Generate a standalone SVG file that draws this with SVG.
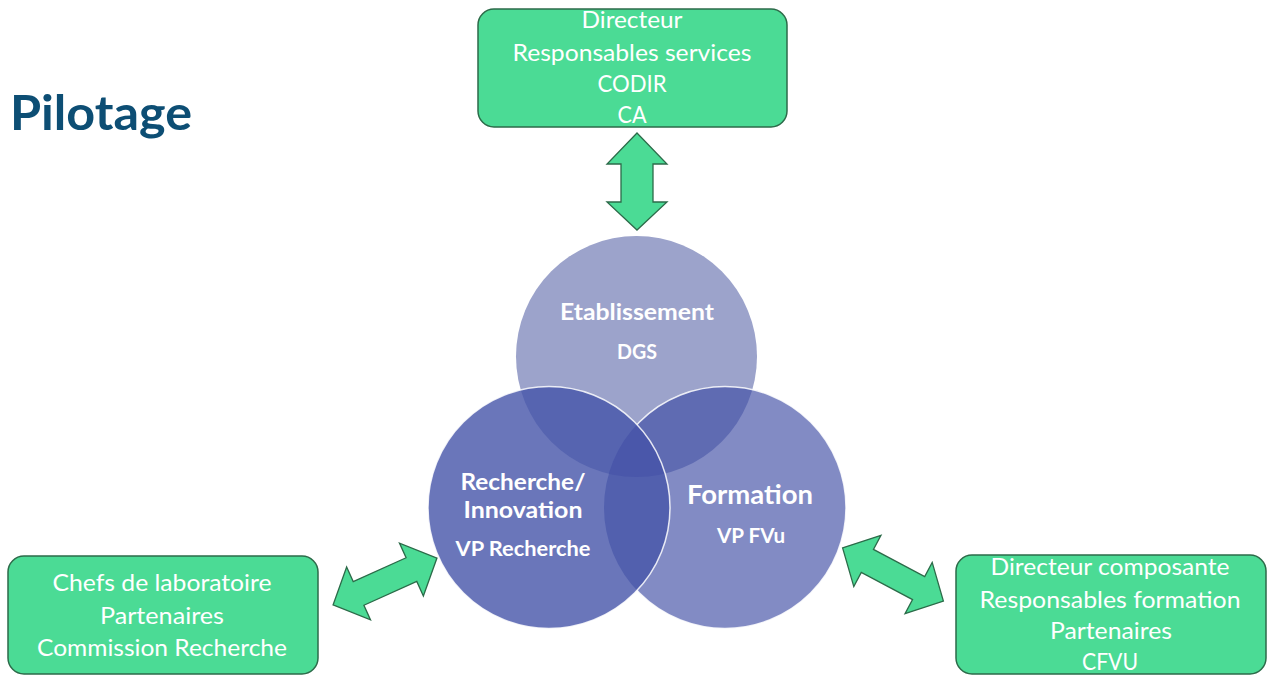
<svg xmlns="http://www.w3.org/2000/svg" width="1267" height="675" viewBox="0 0 1267 675">
<defs>
<style>
.box{fill:#4BDB95;stroke:#2C6B49;stroke-width:1.5}
.arr{fill:#4BDB95;stroke:#2C6B49;stroke-width:1.3;stroke-linejoin:miter}
.bt{font-family:Lato,"Liberation Sans",sans-serif;font-size:23px;fill:#ffffff;text-anchor:middle}
.ct{font-family:Lato,"Liberation Sans",sans-serif;font-weight:bold;fill:#ffffff;text-anchor:middle}
</style>
<clipPath id="cTop"><circle cx="636.5" cy="356.5" r="120.5"/></clipPath>
<clipPath id="cRight"><circle cx="725" cy="507.5" r="121"/></clipPath>
<clipPath id="cLeft"><circle cx="549" cy="507.5" r="121"/></clipPath>
</defs>
<rect width="1267" height="675" fill="#ffffff"/>
<text x="10" y="130" font-family="Lato,'Liberation Sans',sans-serif" font-weight="bold" font-size="47" fill="#0D4E74" textLength="182" lengthAdjust="spacingAndGlyphs">Pilotage</text>

<g id="connectors">
<polygon class="arr" points="637,133 667,164 653,164 653,202 667,202 637,230 607,202 621,202 621,164 607,164"/>
<polygon class="arr" transform="translate(385,581.5) rotate(-24.3)" points="-57,0 -29,-29 -29,-13 29,-13 29,-29 57,0 29,29 29,13 -29,13 -29,29"/>
<polygon class="arr" transform="translate(893,574.5) rotate(27.9)" points="-57,0 -29,-29 -29,-13 29,-13 29,-29 57,0 29,29 29,13 -29,13 -29,29"/>
</g>

<g id="node-top">
<rect class="box" x="478" y="9" width="309" height="118" rx="16"/>
<text class="bt" x="632" y="28" textLength="101" lengthAdjust="spacingAndGlyphs">Directeur</text>
<text class="bt" x="632" y="61" textLength="239" lengthAdjust="spacingAndGlyphs">Responsables services</text>
<text class="bt" x="632" y="92" textLength="69" lengthAdjust="spacingAndGlyphs">CODIR</text>
<text class="bt" x="632" y="123" textLength="29" lengthAdjust="spacingAndGlyphs">CA</text>
</g>

<g id="node-left">
<rect class="box" x="8" y="556" width="310" height="118" rx="16"/>
<text class="bt" x="162" y="591" textLength="219" lengthAdjust="spacingAndGlyphs">Chefs de laboratoire</text>
<text class="bt" x="162" y="624" textLength="124" lengthAdjust="spacingAndGlyphs">Partenaires</text>
<text class="bt" x="162" y="656" textLength="250" lengthAdjust="spacingAndGlyphs">Commission Recherche</text>
</g>

<g id="node-right">
<rect class="box" x="956" y="555" width="310" height="119" rx="16"/>
<text class="bt" x="1110" y="575" textLength="239" lengthAdjust="spacingAndGlyphs">Directeur composante</text>
<text class="bt" x="1110" y="608" textLength="261" lengthAdjust="spacingAndGlyphs">Responsables formation</text>
<text class="bt" x="1111" y="639" textLength="122" lengthAdjust="spacingAndGlyphs">Partenaires</text>
<text class="bt" x="1110" y="670" textLength="56" lengthAdjust="spacingAndGlyphs">CFVU</text>
</g>

<g id="venn">
<circle cx="636.5" cy="356.5" r="120.5" fill="#9CA3CB"/>
<circle cx="725" cy="507.5" r="121" fill="#828BC4"/>
<circle cx="725" cy="507.5" r="121" fill="#5F6BB2" clip-path="url(#cTop)"/>
<circle cx="725" cy="507.5" r="121" fill="none" stroke="#ffffff" stroke-width="1.5" stroke-opacity="0.85"/>
<circle cx="549" cy="507.5" r="121" fill="#6A76BA"/>
<circle cx="549" cy="507.5" r="121" fill="#5664B0" clip-path="url(#cTop)"/>
<circle cx="549" cy="507.5" r="121" fill="#5260AE" clip-path="url(#cRight)"/>
<g clip-path="url(#cRight)"><circle cx="549" cy="507.5" r="121" fill="#4A57AA" clip-path="url(#cTop)"/></g>
<circle cx="549" cy="507.5" r="121" fill="none" stroke="#ffffff" stroke-width="1.5" stroke-opacity="0.85"/>
</g>

<g id="node-etablissement">
<text class="ct" x="637" y="320" font-size="22" textLength="154" lengthAdjust="spacingAndGlyphs">Etablissement</text>
<text class="ct" x="637" y="359" font-size="20" textLength="40" lengthAdjust="spacingAndGlyphs">DGS</text>
</g>
<g id="node-recherche">
<text class="ct" x="523" y="490" font-size="22" textLength="125" lengthAdjust="spacingAndGlyphs">Recherche/</text>
<text class="ct" x="523" y="518" font-size="22" textLength="119" lengthAdjust="spacingAndGlyphs">Innovation</text>
<text class="ct" x="523" y="556" font-size="20" textLength="135" lengthAdjust="spacingAndGlyphs">VP Recherche</text>
</g>
<g id="node-formation">
<text class="ct" x="750" y="504" font-size="26" textLength="126" lengthAdjust="spacingAndGlyphs">Formation</text>
<text class="ct" x="751" y="543" font-size="20" textLength="68" lengthAdjust="spacingAndGlyphs">VP FVu</text>
</g>
</svg>
